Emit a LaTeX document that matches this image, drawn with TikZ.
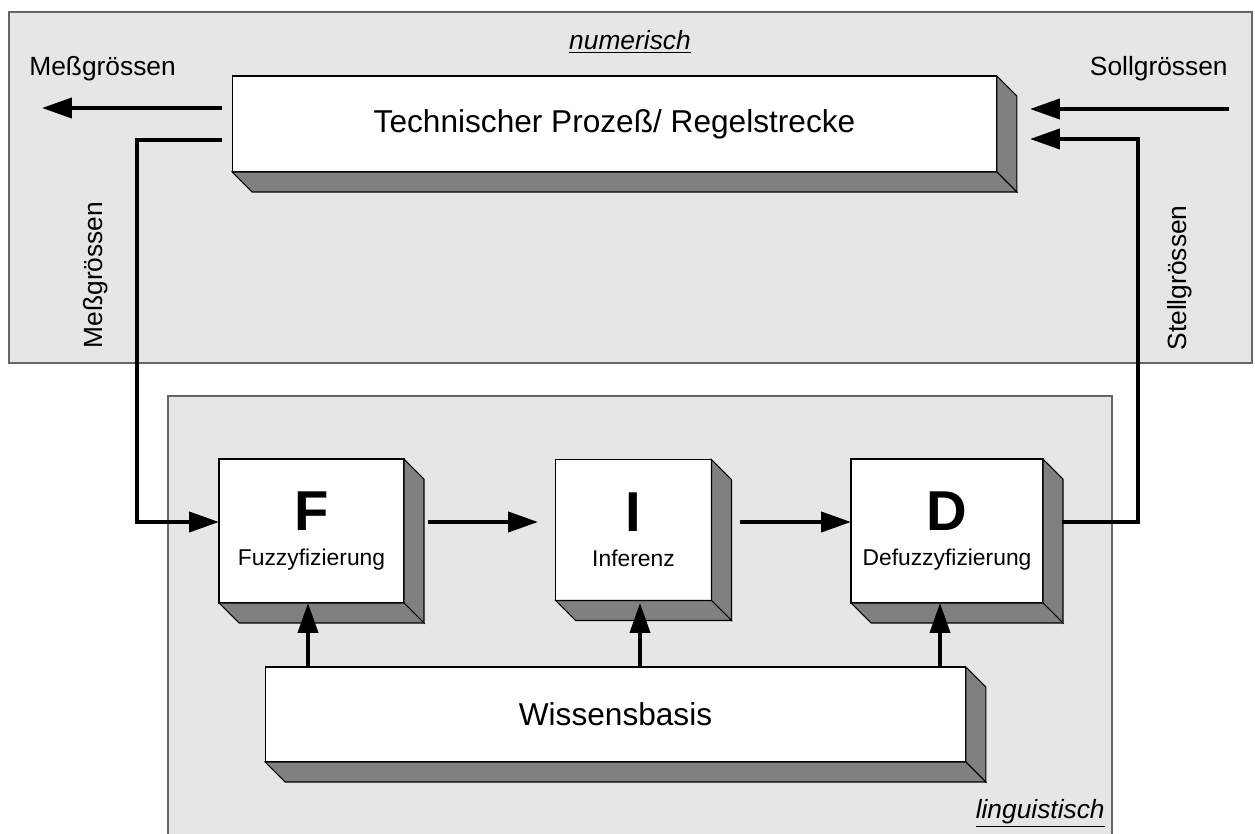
\documentclass[tikz,border=0pt]{standalone}
\usepackage{fontspec}
\setmainfont{Liberation Sans}
\usepackage{xcolor}
\usepackage{tikz}
\usetikzlibrary{arrows.meta, positioning, calc}

\definecolor{panelgray}{HTML}{E6E6E6}
\definecolor{sidegray}{HTML}{808080}
\definecolor{framegray}{HTML}{666666}

\begin{document}
\begin{tikzpicture}[x=0.02cm, y=-0.02cm,
    panel/.style={draw=framegray, fill=panelgray, line width=0.6pt},
    block/.style={rectangle, draw, fill=white, line width=0.6pt, inner sep=0pt, outer sep=0pt, align=center, font=\fontsize{13}{20}\selectfont},
    wide/.style={block, font=\fontsize{18}{22}\selectfont},
    side/.style={draw, fill=sidegray, line width=0.6pt},
    signal/.style={font=\fontsize{15}{18}\selectfont, inner sep=0pt},
    zone/.style={font=\fontsize{15}{18}\selectfont\itshape, inner sep=0pt},
    arrow/.style={-{Triangle[length=0.6cm, width=0.4cm]}, line width=0.08cm}
]
\useasboundingbox (0,0) rectangle (1255,834);

\draw[panel] (9,12) rectangle (1252,363);
\draw[panel] (168,396) rectangle (1112,840);

\node[wide, minimum width=15.3cm, minimum height=1.92cm] (tech) at (614.5,124) {Technischer Prozeß/ Regelstrecke};
\node[block, minimum width=3.7cm, minimum height=2.88cm] (fuzz) at (311.5,531) {{\fontsize{32}{32}\selectfont\bfseries F}\\Fuzzyfizierung};
\node[block, minimum width=3.12cm, minimum height=2.82cm] (infer) at (633.5,530) {{\fontsize{32}{32}\selectfont\bfseries I}\\Inferenz};
\node[block, minimum width=3.84cm, minimum height=2.88cm] (defuzz) at (947,531) {{\fontsize{32}{32}\selectfont\bfseries D}\\Defuzzyfizierung};
\node[wide, minimum width=14.02cm, minimum height=1.9cm] (wiss) at (615.5,714.5) {Wissensbasis};

\foreach \b in {tech, fuzz, infer, defuzz, wiss} {
  \draw[side] (\b.north east) -- ++(20,20) -- ([shift={(20,20)}]\b.south east) -- (\b.south east) -- cycle;
  \draw[side] (\b.south west) -- ++(20,20) -- ([shift={(20,20)}]\b.south east) -- (\b.south east) -- cycle;
}

\node[zone, anchor=base] (num) at (630,50) {\underline{numerisch}};
\node[zone, anchor=base east] (ling) at (1105,818) {\underline{linguistisch}};
\node[signal, anchor=base west] (messtop) at (29,76) {Meßgrössen};
\node[signal, anchor=base east] (soll) at (1228,76) {Sollgrössen};
\node[signal, rotate=90] (messside) at (96,275) {Meßgrössen};
\node[signal, rotate=90] (stell) at (1180,278) {Stellgrössen};

\coordinate (messout) at (42,108);
\coordinate (sollin) at (1229,109);

\draw[arrow] ([shift={(-10,-16)}]tech.west) -- (messout);
\draw[arrow] (sollin) -- ([shift={(33,-15)}]tech.east);
\draw[arrow] ([shift={(-10,16)}]tech.west) -- ++(-85,0) |- ([shift={(0,-9)}]fuzz.west);
\draw[arrow] ([shift={(24,-9)}]fuzz.east) -- ([shift={(-17.5,-8)}]infer.west);
\draw[arrow] ([shift={(29,-8)}]infer.east) -- ([shift={(0,-9)}]defuzz.west);
\draw[arrow] ([shift={(19,-9)}]defuzz.east) -- ++(76,0) |- ([shift={(33,15)}]tech.east);

\draw[arrow] ([shift={(-3.5,0)}]fuzz.south |- wiss.north) -- ([shift={(-3.5,0)}]fuzz.south);
\draw[arrow] ([shift={(6.5,0)}]infer.south |- wiss.north) -- ([shift={(6.5,2.5)}]infer.south);
\draw[arrow] ([shift={(-7,0)}]defuzz.south |- wiss.north) -- ([shift={(-7,0)}]defuzz.south);
\end{tikzpicture}
\end{document}
